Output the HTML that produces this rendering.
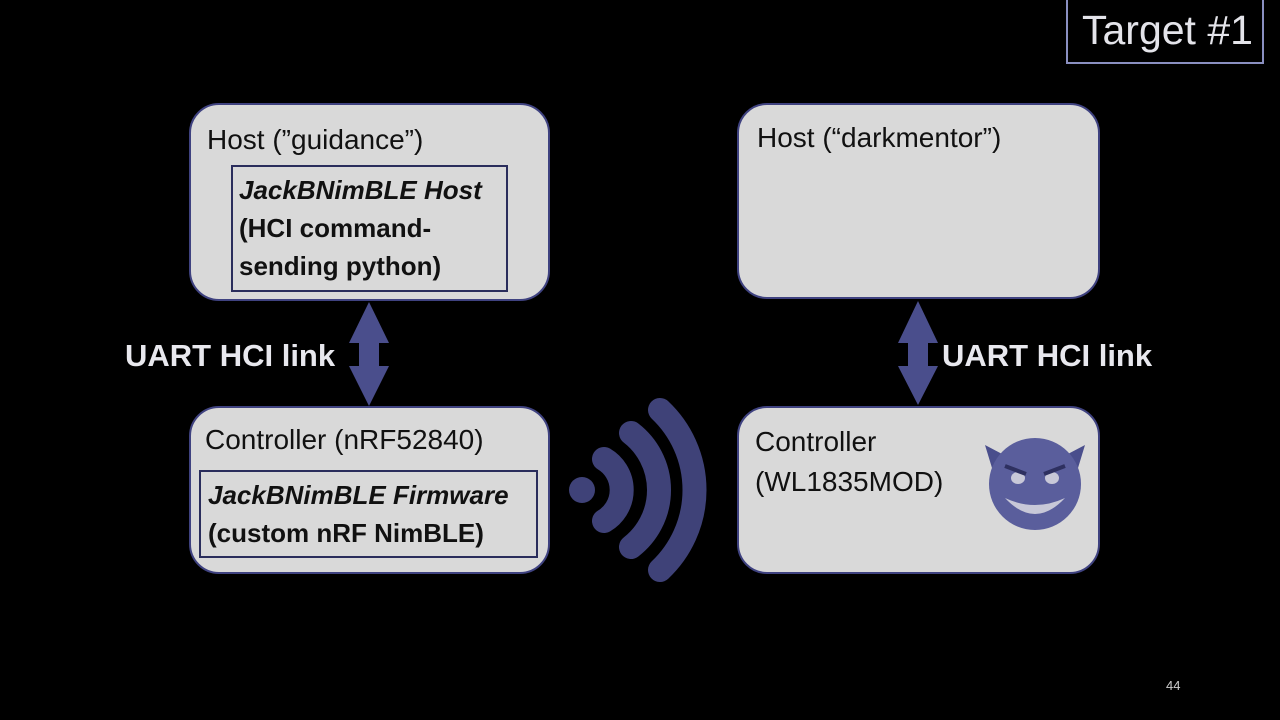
<!DOCTYPE html>
<html><head><meta charset="utf-8"><style>
body{margin:0;width:1280px;height:720px;background:#000;position:relative;overflow:hidden;font-family:"Liberation Sans",sans-serif}
.box{position:absolute;background:#d9d9d9;border:2px solid #3f4280;border-radius:30px;box-sizing:border-box}
.t{position:absolute;color:#111;font-size:27px;white-space:nowrap}
.in{position:absolute;border:2px solid #2a2d5c;box-sizing:border-box}
.b{position:absolute;font-weight:bold;font-size:26px;color:#111;white-space:nowrap;line-height:38px}
.w{position:absolute;color:#e8e8ee;font-weight:bold;font-size:31px;white-space:nowrap}
</style></head><body>
<div style="position:absolute;left:1066px;top:-2px;width:198px;height:66px;border:2px solid #8a8fc0;box-sizing:border-box"></div>
<div style="position:absolute;left:1082px;top:7px;color:#e4e4ea;font-size:41px;white-space:nowrap">Target #1</div>

<div class="box" style="left:189px;top:103px;width:361px;height:198px"></div>
<div class="t" style="left:207px;top:124px;font-size:28px">Host (”guidance”)</div>
<div class="in" style="left:231px;top:165px;width:277px;height:127px"></div>
<div class="b" style="left:239px;top:171px"><i>JackBNimBLE Host</i><br>(HCI command-<br>sending python)</div>

<div class="box" style="left:189px;top:406px;width:361px;height:168px"></div>
<div class="t" style="left:205px;top:424px;font-size:28px">Controller (nRF52840)</div>
<div class="in" style="left:199px;top:470px;width:339px;height:88px"></div>
<div class="b" style="left:208px;top:476px"><i>JackBNimBLE Firmware</i><br>(custom nRF NimBLE)</div>

<div class="box" style="left:737px;top:103px;width:363px;height:196px"></div>
<div class="t" style="left:757px;top:122px;font-size:28px">Host (“darkmentor”)</div>

<div class="box" style="left:737px;top:406px;width:363px;height:168px"></div>
<div class="t" style="left:755px;top:422px;line-height:40px;font-size:28px">Controller<br>(WL1835MOD)</div>

<div class="w" style="left:125px;top:338px">UART HCI link</div>
<div class="w" style="left:942px;top:338px">UART HCI link</div>

<svg width="1280" height="720" style="position:absolute;left:0;top:0">
<polygon points="369,302 389,343 379,343 379,366 389,366 369,406 349,366 359,366 359,343 349,343" fill="#4a4e8c"/>
<polygon points="918,301 938,343 928,343 928,366 938,366 918,405 898,366 908,366 908,343 898,343" fill="#4a4e8c"/>
<g fill="none" stroke="#3f4278" stroke-width="24" stroke-linecap="round">
<circle cx="582" cy="490" r="13" fill="#3f4278" stroke="none"/>
<path d="M 604 459 A 36 36 0 0 1 604 521"/>
<path d="M 631 433 A 72 72 0 0 1 631 547"/>
<path d="M 660 410 A 110 110 0 0 1 660 570"/>
</g>
<g>
<polygon points="985,445 992,468 1004,455" fill="#4a4e8c"/>
<polygon points="1085,445 1078,468 1066,455" fill="#4a4e8c"/>
<circle cx="1035" cy="484" r="46" fill="#5a5e9c"/>
<path d="M1005 498 Q1035 530 1065 498 Q1035 512 1005 498Z" fill="#c8c8d8"/>
<ellipse cx="1018" cy="478" rx="7" ry="6" fill="#c8c8d8"/>
<ellipse cx="1052" cy="478" rx="7" ry="6" fill="#c8c8d8"/>
<path d="M1005 466 L1026 474 M1065 466 L1044 474" stroke="#2e3060" stroke-width="4"/>
</g>
</svg>
<div style="position:absolute;left:1166px;top:678px;color:#ccc;font-size:13px">44</div>
</body></html>
